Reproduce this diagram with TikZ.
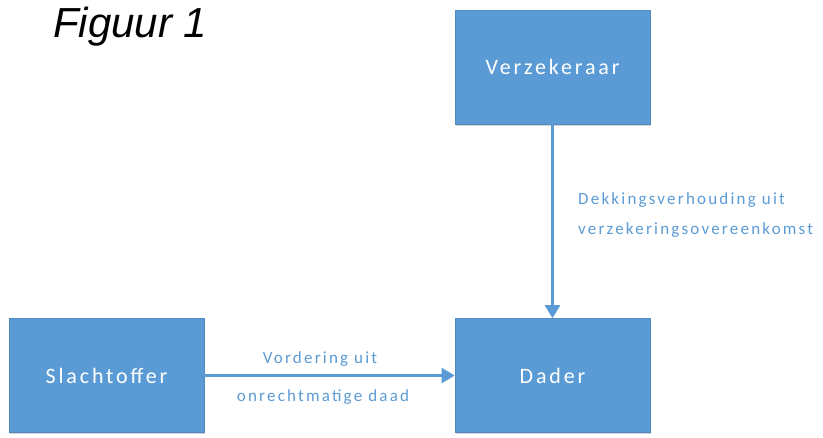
\documentclass[tikz,border=0pt]{standalone}
\usepackage{fontspec}
\setmainfont{Carlito}
\newfontfamily\spacedfont[LetterSpace=13]{Carlito}
\newfontfamily\arialfont{Liberation Sans}
\usetikzlibrary{arrows.meta,shadows}
\definecolor{boxblue}{HTML}{5B9BD5}
\tikzset{
  entity/.style={draw=boxblue!90!black, line width=0.6pt, fill=boxblue, minimum width=195pt, minimum height=114pt, inner sep=0pt,
    text=white, font=\spacedfont\fontsize{22}{26}\selectfont,
    drop shadow={shadow xshift=1pt, shadow yshift=-1.5pt, opacity=0.35}},
  rel/.style={draw=boxblue, line width=2.4pt, -{Triangle[width=15pt,length=13pt]}},
  lbl/.style={text=boxblue, font=\spacedfont\fontsize{17}{30}\selectfont, inner sep=0pt}
}
\begin{document}
\begin{tikzpicture}[x=1pt,y=-1pt]
\useasboundingbox (0,0) rectangle (823,437);
\node[anchor=base west, inner sep=0pt, font=\arialfont\itshape\fontsize{42}{48}\selectfont] (title) at (53,37) {Figuur 1};
\node[entity] (verz) at (552.5,67) {Verzekeraar};
\node[entity] (dader) at (552.5,375.5) {Dader};
\node[entity] (slacht) at (106.5,375.5) {Slachtoffer};
\draw[rel] (verz) -- (dader);
\draw[rel] (slacht) -- (dader);
\node[lbl, anchor=west, align=left] (l1) at (578,215) {Dekkingsverhouding uit\\verzekeringsovereenkomst};
\node[lbl] (l2) at (320,359) {Vordering uit};
\node[lbl] (l3) at (323,397) {onrechtmatige daad};
\end{tikzpicture}
\end{document}
